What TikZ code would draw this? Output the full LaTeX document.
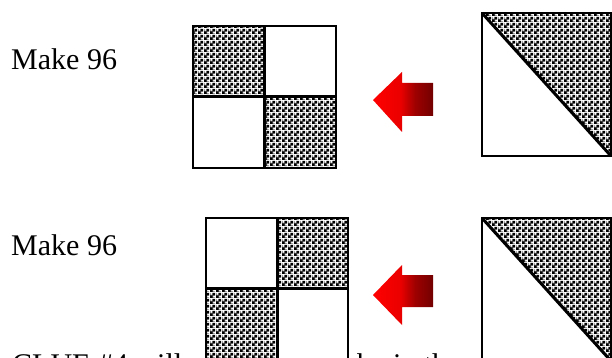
\documentclass[tikz,border=0pt]{standalone}
\usepackage{fontspec}
\setmainfont{Liberation Serif}
\usepackage{tikz}
\usetikzlibrary{patterns.meta}

\tikzdeclarepattern{
  name=clue checker,
  type=uncolored,
  bounding box={(0pt,0pt) and (6pt,6pt)},
  tile size={(6pt,6pt)},
  code={
    \fill (0pt,0pt) rectangle (6pt,0.5pt);
    \fill (0pt,0pt) rectangle (0.5pt,6pt);
    \fill (0pt,3pt) rectangle (6pt,3.5pt);
    \fill (3pt,0pt) rectangle (3.5pt,6pt);
    \fill (0pt,0pt) rectangle (3pt,3pt);
    \fill (3pt,3pt) rectangle (6pt,6pt);
  }
}

\pgfdeclarehorizontalshading{redarrow}{100bp}{%
  color(0bp)=(red); color(25bp)=(red); color(48bp)=(red!92!black);
  color(60bp)=(red!62!black); color(75bp)=(red!45!black); color(100bp)=(red!45!black)}

\begin{document}
\begin{tikzpicture}[
    x=1pt, y=-1pt,
    label/.style={
        anchor=base west,
        inner sep=0pt,
        font=\fontsize{30}{36}\selectfont
    },
    cell/.style={draw, line width=1.5pt, fill=white},
    checkcell/.style={draw, line width=1.5pt, pattern={clue checker}, pattern color=black},
    divider/.style={line width=3pt},
    frame/.style={draw, line width=2pt},
    redarr/.style={shading=redarrow},
]

\useasboundingbox (0,0) rectangle (612,358);
\clip (0,0) rectangle (612,358);

% texts
\node[label] (make1) at (11,70)  {Make 96};
\node[label] (make2) at (11,255) {Make 96};
\node[label] (clue)  at (12,374) {CLUE \#4 will};
\node[label] (rest)  at (357,374) {be in the};

% first block
\path[checkcell] (193,26) rectangle (264,97);
\path[cell]      (264,26) rectangle (336,97);
\path[cell]      (193,97) rectangle (264,168);
\path[checkcell] (264,97) rectangle (336,168);
\draw[divider] (264,26) -- (264,168);
\draw[divider] (193,97) -- (336,97);
\path[frame] (193,26) rectangle (336,168);

% second block
\path[cell]      (206,218) rectangle (277,288);
\path[checkcell] (277,218) rectangle (348,288);
\path[checkcell] (206,288) rectangle (277,362);
\path[cell]      (277,288) rectangle (348,362);
\draw[divider] (277,218) -- (277,362);
\draw[divider] (206,288) -- (348,288);
\path[frame] (206,218) rectangle (348,362);

% arrows
\shade[redarr] (373,100) -- (402,72) -- (402,83) -- (433,83)
    -- (433,116) -- (402,116) -- (402,132) -- cycle;
\shade[redarr] (373,295) -- (402,265) -- (402,275) -- (433,275)
    -- (433,307) -- (402,307) -- (402,325) -- cycle;

% half square triangles
\fill[pattern={clue checker}, pattern color=black] (482,13) -- (611,13) -- (611,156) -- cycle;
\path[frame] (482,13) rectangle (611,156);
\draw[divider] (482,13) -- (611,156);

\fill[pattern={clue checker}, pattern color=black] (482,218) -- (611,218) -- (611,361) -- cycle;
\path[frame] (482,218) rectangle (611,361);
\draw[divider] (482,218) -- (611,361);

\end{tikzpicture}
\end{document}
